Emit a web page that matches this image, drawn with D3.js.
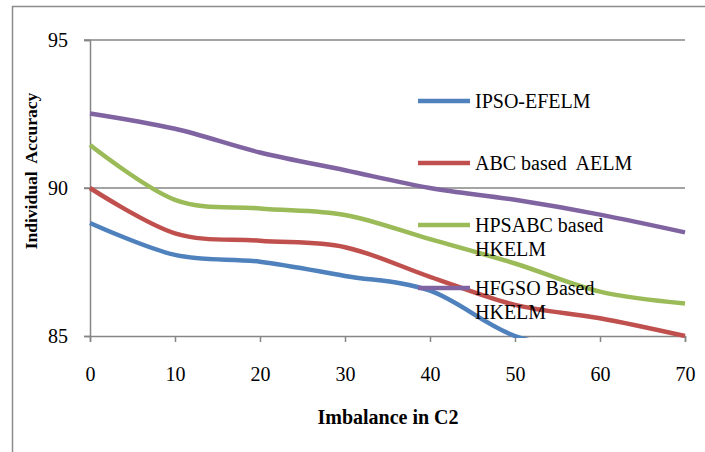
<!DOCTYPE html>
<html><head><meta charset="utf-8">
<script src="https://cdn.jsdelivr.net/npm/d3@7"></script>
<style>body{margin:0;background:#fff;} svg{display:block;} text{font-family:"Liberation Serif","Times New Roman",serif;}</style>
</head><body>
<svg id="c" width="705" height="452"></svg>
<script>
const xValues = [0, 10, 20, 30, 40, 50, 60, 70];
const seriesNames = ["IPSO-EFELM", "ABC based AELM", "HPSABC based HKELM", "HFGSO Based HKELM"];
const legendLines = [["IPSO-EFELM"], ["ABC based  AELM"], ["HPSABC based", "HKELM"], ["HFGSO Based", "HKELM"]];
const ipso   = [88.82, 87.74, 87.51, 87.03, 86.53, 85.0, 84.5, 84.0];
const abc    = [90.0, 88.47, 88.22, 88.0, 87.0, 86.05, 85.6, 85.0];
const hpsabc = [91.45, 89.6, 89.31, 89.09, 88.27, 87.45, 86.5, 86.1];
const hfgso  = [92.52, 92.0, 91.2, 90.6, 90.0, 89.6, 89.1, 88.5];
const yTicks = [85, 90, 95];
const xTicks = [0, 10, 20, 30, 40, 50, 60, 70];
const colors = ["#4F81BD", "#C0504D", "#9BBB59", "#8064A2"];
const allSeries = [ipso, abc, hpsabc, hfgso];

const svg = d3.select("#c");
const font = "Liberation Serif";
const axisColor = "#868686";

// outer border
svg.append("path").attr("d", "M12.5,452 L12.5,6.5 L705,6.5")
  .attr("fill", "none").attr("stroke", "#8c8c8c").attr("stroke-width", 1.5);

const x = d3.scaleLinear().domain([0, 70]).range([90, 685]);
const y = d3.scaleLinear().domain([85, 95]).range([336, 40]);

// gridlines
svg.append("g").selectAll("line").data(yTicks.filter(d => d !== 85)).join("line")
  .attr("x1", 84).attr("x2", 685).attr("y1", d => y(d)).attr("y2", d => y(d))
  .attr("stroke", axisColor).attr("stroke-width", 1.5);

// y axis
const yAxis = svg.append("g").attr("transform", "translate(90,0)")
  .call(d3.axisLeft(y).tickValues(yTicks).tickSize(6).tickPadding(16).tickFormat(d3.format("d")));
yAxis.select(".domain").attr("stroke", axisColor).attr("stroke-width", 1.5);
yAxis.selectAll(".tick line").attr("stroke", axisColor).attr("stroke-width", 1.5);
yAxis.selectAll(".tick text").attr("font-family", font).attr("font-size", 20).attr("fill", "#000");

// x axis
const xAxis = svg.append("g").attr("transform", "translate(0,336)")
  .call(d3.axisBottom(x).tickValues(xTicks).tickSize(6).tickPadding(25).tickFormat(d3.format("d")));
xAxis.select(".domain").attr("stroke", axisColor).attr("stroke-width", 1.5);
xAxis.selectAll(".tick line").attr("stroke", axisColor).attr("stroke-width", 1.5);
xAxis.selectAll(".tick text").attr("font-family", font).attr("font-size", 20).attr("fill", "#000");

// clip
svg.append("defs").append("clipPath").attr("id", "pc").append("rect")
  .attr("x", 80).attr("y", 30).attr("width", 610).attr("height", 308);

const line = d3.line().x((d, i) => x(xValues[i])).y(d => y(d)).curve(d3.curveCatmullRom.alpha(0));

svg.append("g").attr("clip-path", "url(#pc)").selectAll("path").data(allSeries).join("path")
  .attr("d", d => line(d)).attr("fill", "none")
  .attr("stroke", (d, i) => colors[i]).attr("stroke-width", 4.5).attr("stroke-linecap", "butt");

// legend
const legY = [101, 163, 225, 288];
const leg = svg.append("g");
legendLines.forEach((lines, i) => {
  leg.append("line").attr("x1", 418).attr("x2", 470).attr("y1", legY[i]).attr("y2", legY[i])
    .attr("stroke", colors[i]).attr("stroke-width", 4.5);
  const t = leg.append("text").attr("x", 475).attr("y", legY[i] + 7)
    .attr("font-family", font).attr("font-size", 20).attr("fill", "#000").attr("xml:space", "preserve");
  lines.forEach((s, j) => t.append("tspan").attr("x", 475).attr("dy", j === 0 ? 0 : 24).text(s));
});

// axis titles
svg.append("text").attr("x", 388).attr("y", 424).attr("text-anchor", "middle")
  .attr("font-family", font).attr("font-weight", "bold").attr("font-size", 20).text("Imbalance in C2");
svg.append("text").attr("transform", "translate(37,171) rotate(-90)").attr("text-anchor", "middle")
  .attr("font-family", font).attr("font-weight", "bold").attr("font-size", 17.5)
  .attr("xml:space", "preserve").text("Individual  Accuracy");
</script>
</body></html>
